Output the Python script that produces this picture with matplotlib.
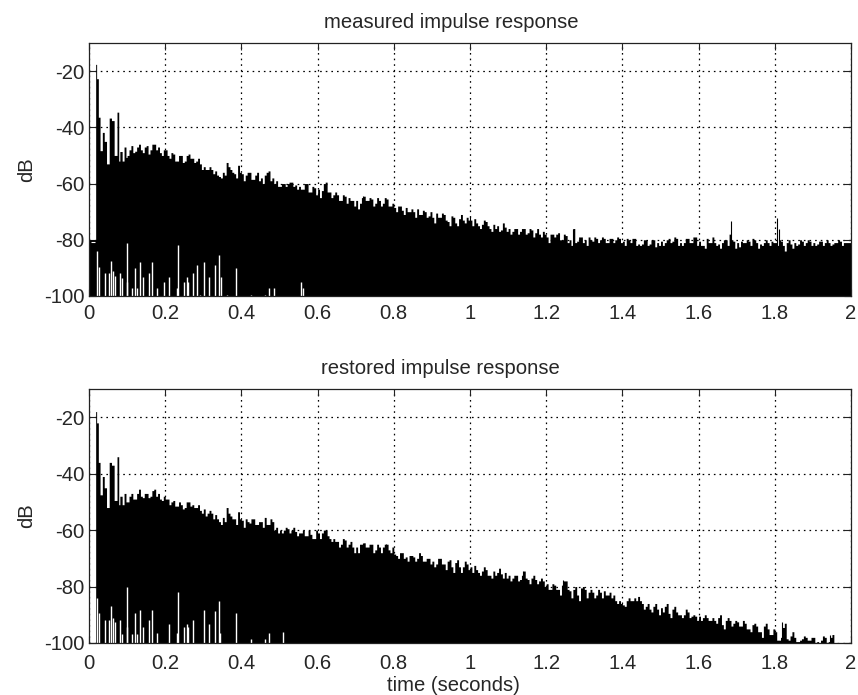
#! /usr/bin/env python3

'''
Measured and restored impulse response, level in dB against time
'''

import matplotlib
matplotlib.use('Agg')
import matplotlib.pyplot as plt
import numpy as np

plt.rcParams['font.family'] = ['Liberation Sans', 'DejaVu Sans']

x_ticks = [0, 0.2, 0.4, 0.6, 0.8, 1, 1.2, 1.4, 1.6, 1.8, 2]
x_tick_labels = ['0', '0.2', '0.4', '0.6', '0.8', '1', '1.2', '1.4', '1.6', '1.8', '2']
y_ticks = [-100, -80, -60, -40, -20]
y_tick_labels = ['-100', '-80', '-60', '-40', '-20']

# first 0.1 s, unevenly spaced
early_t = [0, 0.016, 0.0175, 0.02, 0.0245, 0.029, 0.035, 0.04, 0.046, 0.053,
           0.059, 0.066, 0.0735, 0.078, 0.081, 0.087, 0.092, 0.097]
measured_early = [-80, -80, -17.6, -22.7, -36.4, -48.3, -41.8, -45, -53, -36.7,
                  -37.6, -50, -34.6, -52, -48.6, -52, -47, -50.7]
restored_early = [-100, -100, -18, -22, -36, -47.5, -41, -45, -52, -36,
                  -37, -49.5, -34, -51, -48, -51, -47, -50]

# from 0.1 s on, one value every 0.005 s, one row per 0.1 s
measured_db = [
    -50, -48, -46.5, -49, -48.5, -47, -46, -48, -49, -47, -46.5, -49.5, -48, -46, -46, -48, -47, -49, -50, -48,
    -48, -50, -51, -49, -49.5, -52, -52, -50, -50, -52.5, -52, -50, -49.5, -51, -51, -52.5, -52, -51, -53, -55,
    -54, -55, -55, -54, -55, -56.5, -55.5, -57, -57.5, -58, -56, -57, -52.5, -54, -55, -56, -56.5, -58, -53.5, -56,
    -56.5, -59, -57, -56, -56, -58.5, -58.5, -57, -56, -59, -58, -60, -57, -56, -55.5, -59, -58, -60, -59, -61,
    -61, -60, -60, -61, -60, -59.5, -59.5, -61, -60.5, -62, -61, -62, -62, -60, -60, -63, -63, -61, -61.5, -64,
    -62, -65, -62.5, -60, -59.5, -63, -63, -65, -64, -63, -64, -66, -66, -64, -64.5, -67, -65, -66, -66, -68,
    -66, -69, -67, -65, -64.5, -66, -66, -65, -65.5, -68, -67, -65, -66, -68, -67, -65, -65.5, -68, -68, -67,
    -68.5, -70, -68, -68, -69.5, -71, -68.5, -70, -70, -69, -70, -72, -69, -71, -71, -69.5, -70, -72, -71.5, -70,
    -72, -74, -70.5, -72, -72, -70.5, -71, -73, -73.5, -75, -71.5, -72, -74, -75, -72.5, -71, -73, -74, -72, -73,
    -73, -75, -72.5, -74, -75, -76, -74.5, -73, -73.5, -75, -76, -77, -74.5, -76, -75, -77, -76.5, -74, -75.5, -77,
    -76, -78, -77, -76, -76, -78, -77, -76, -76, -78, -77.5, -76, -76.5, -79, -77.5, -76, -78, -79, -77, -78,
    -79, -81, -78, -78, -79, -78, -77.5, -80, -80, -78, -78.5, -81, -80, -82, -76, -81, -80.5, -79, -79, -81,
    -80, -82, -79, -80, -80.5, -79, -79.5, -81, -80, -79, -79.5, -81, -81, -79.5, -79.5, -81, -80, -79, -79.5, -81,
    -80.5, -82, -79.5, -80, -81, -79.5, -79.5, -82, -81.5, -82, -81.5, -80, -80, -82, -81.5, -80, -80, -82.5, -81, -82,
    -80.5, -82, -81, -80, -79.5, -81, -80.5, -79, -79.5, -82, -81, -82, -81, -79.5, -79.5, -81, -81, -79, -79, -82,
    -80.5, -82, -82, -83, -79.5, -81, -81, -79, -81, -82, -81.5, -83, -81, -80, -80, -82, -78, -80, -80.5, -83,
    -81, -82.5, -80.5, -81, -81, -80, -80.5, -82, -79.5, -80, -81, -83, -81.5, -82, -81, -80, -81, -82, -80.5, -81,
    -81, -82, -80, -80.5, -82, -84, -81, -80, -81.5, -83, -81, -82, -81.5, -80, -80.5, -82, -81, -80, -80.5, -82,
    -81, -82, -81.5, -80.5, -80.5, -82, -81, -80, -81, -82, -81.5, -81, -81, -80, -80.5, -82, -81, -81, -81, -81,
]
restored_db = [
    -50, -48, -47, -49, -49, -47, -45.5, -48, -48.5, -47, -47, -48.5, -48, -46, -45.5, -48, -47, -49, -49.5, -48,
    -49, -49, -51, -50, -49.5, -51.5, -51.5, -50, -51, -52.5, -52, -50, -50, -51.5, -51, -52, -52, -51, -53, -54,
    -52.5, -55, -54, -53, -54, -56, -54.5, -56, -57, -58, -55.5, -57, -52, -54, -55, -56, -56, -58, -53.5, -56,
    -56.5, -59, -56, -57, -57.5, -56, -56, -58, -58, -57, -57, -59, -55.5, -58, -58, -56, -57, -60, -59, -61,
    -60, -61, -60, -59, -59.5, -61, -60, -59, -60.5, -62, -61, -61, -60, -62, -62, -60, -61.5, -63, -63, -60,
    -61, -63, -61, -60, -60, -62, -63, -64, -63, -64, -64, -66, -65, -63, -63.5, -66, -65, -64, -66, -68,
    -66, -68, -65, -65, -64.5, -66, -66, -65, -65, -68, -67, -65, -66, -68, -66, -65, -65, -67, -68, -66,
    -68.5, -69, -70, -68, -68, -70, -69.5, -71, -69, -69, -69.5, -71, -70, -68, -69, -71, -71, -70, -70, -72,
    -71, -73, -72, -70, -70, -72, -72, -74, -71, -70.5, -73, -75, -71.5, -70.5, -73, -75, -73, -71, -72, -74,
    -73, -75, -72.5, -74, -75, -76, -74.5, -73, -74, -76, -76, -77, -74.5, -76, -75, -73.5, -75.5, -77, -75, -77,
    -76, -78, -77, -76, -76, -78, -77.5, -76, -74.5, -77, -77.5, -79, -77, -76, -77.5, -79, -78, -77, -78, -80,
    -79, -81, -81, -79, -79.5, -81, -81, -83, -79.5, -78, -78, -81, -81.5, -84, -81, -80, -83, -85, -80.5, -80,
    -81, -84, -82, -81, -82, -84, -83, -81, -82, -84, -81.5, -83, -83, -82, -84, -83, -85, -86, -85, -86,
    -86.5, -87, -85, -84, -85, -85, -84, -85, -83.5, -85, -86, -88, -87, -86, -88, -89, -87, -86, -88, -90,
    -87.5, -89, -87, -86, -89.5, -91, -88, -87, -89, -90, -90, -91, -90, -88, -89, -91, -90.5, -90, -90.5, -92,
    -90.5, -92, -91, -90, -91, -92, -92, -91, -92, -93, -91, -90, -93.5, -95, -92, -91, -92, -94, -93, -92,
    -92.5, -94, -94, -92, -93, -95, -95, -96, -93.5, -93, -94, -96, -96, -98, -94, -93, -95, -97, -97, -95,
    -96, -99, -99, -98, -94.5, -93, -98.5, -99, -97.5, -96, -98, -99.5, -99.5, -99, -98.5, -97.5, -98, -99, -99, -98,
    -98, -100, -99.5, -100, -99, -97.5, -98, -100, -99.5, -98, -97, -100, -100, -100, -100, -100, -100, -100, -100, -100,
]

# thin peaks above the main envelope
measured_peak_t = [1.27, 1.685, 1.805, 1.812, 1.0, 0.72]
measured_peak_db = [-76, -73.3, -72.4, -76, -71.5, -64.4]
restored_peak_t = [1.14, 1.245, 1.82, 1.945, 0.72, 0.78]
restored_peak_db = [-74.6, -77.5, -92.5, -97, -64.5, -65]

# white gaps rising from the floor
measured_gap_t = [.021, .025, .042, .052, .059, .064, .068, .081, .086, .101,
                  .099, .112, .120, .127, .134, .141, .158, .165, .179, .197,
                  .210, .234, .232, .249, .256, .261, .272, .283, .291, .302,
                  .315, .332, .340, .346, .361, .385, .424, .463, .473, .486,
                  .556, .561]
measured_gap_db = [-84, -89.7, -91.7, -91.7, -87.6, -91, -93, -91.7, -93.5, -81,
                   -95, -97, -90, -97, -88, -93.4, -91.7, -88, -97, -95,
                   -93.4, -82, -97, -95, -93.4, -95, -91.7, -89, -99.5, -88,
                   -93.4, -89, -85.5, -93.4, -99.5, -90, -99.5, -99.5, -97, -97,
                   -95, -97]
restored_gap_t = [.021, .025, .042, .052, .059, .064, .068, .081, .087, .101,
                  .099, .112, .120, .127, .134, .141, .158, .165, .179, .210,
                  .234, .232, .249, .256, .261, .272, .302, .315, .332, .340,
                  .344, .385, .424, .463, .473, .508]
restored_gap_db = [-84.2, -89.3, -91.7, -91.7, -86.9, -91.3, -92.5, -91.7, -96.7, -80.2,
                   -94.5, -96.7, -89.3, -96.7, -88.3, -94.3, -91.7, -88.3, -96.4, -93.1,
                   -82.1, -96.4, -94.5, -93.1, -94.5, -91.7, -88.3, -93.1, -88.8, -85,
                   -96.4, -89.3, -98.5, -98.5, -96.4, -96]

# small white break just under the level before the direct sound
measured_notch_t = [0.004, 0.016]
measured_notch_db = -80.9

text_color = '#262626'
font_size = 14.6
width, height = 858, 695
ax_left, ax_right = 89, 851


def axes_x(px):
    return (px - ax_left) / (ax_right - ax_left)


def plot_response(ax, early, body, peak_t, peak_db, gap_t, gap_db, title, title_px):
    t = np.concatenate([early_t, 0.10 + 0.005 * np.arange(len(body) + 1)])
    db = np.array(list(early) + list(body) + [body[-1]])
    ax.fill_between(t, -100, db, step='post', color='black', lw=0, zorder=3)
    ax.vlines(peak_t, -100, peak_db, color='black', lw=0.8, zorder=3)
    ax.vlines(gap_t, -100, gap_db, color='white', lw=1.0, zorder=4)
    ax.set_xlim(0, 2)
    ax.set_ylim(-100, -10)
    ax.set_xticks(x_ticks)
    ax.set_xticklabels(x_tick_labels)
    ax.set_yticks(y_ticks)
    ax.set_yticklabels(y_tick_labels)
    ax.grid(True, color='black', lw=0.9, linestyle=(0, (1.3, 3.2)), zorder=1)
    ax.set_axisbelow(True)
    ax.tick_params(direction='in', top=True, right=True, length=5, width=0.8,
                   labelsize=font_size, labelcolor=text_color, color='#222222')
    ax.tick_params(axis='y', pad=3)
    for spine in ax.spines.values():
        spine.set_linewidth(0.9)
        spine.set_color('#222222')
        spine.set_zorder(5)
    ax.set_ylabel('dB', fontsize=font_size, color=text_color, labelpad=6)
    ax.set_title(title, fontsize=font_size, color=text_color, pad=10.5, x=axes_x(title_px))


def main():
    fig = plt.figure(figsize=(width / 100, height / 100), dpi=100)
    left = ax_left / width
    wide = (ax_right - ax_left) / width
    ax1 = fig.add_axes([left, 1 - 296 / height, wide, (296 - 43) / height])
    ax2 = fig.add_axes([left, 1 - 643 / height, wide, (643 - 389) / height])
    plot_response(ax1, measured_early, measured_db, measured_peak_t, measured_peak_db,
                  measured_gap_t, measured_gap_db, 'measured impulse response', 451)
    plot_response(ax2, restored_early, restored_db, restored_peak_t, restored_peak_db,
                  restored_gap_t, restored_gap_db, 'restored impulse response', 440)
    ax1.hlines(measured_notch_db, *measured_notch_t, color='white', lw=0.8, zorder=4)
    ax1.tick_params(axis='x', pad=6)
    ax2.tick_params(axis='x', pad=8)
    ax2.set_xlabel('time (seconds)', fontsize=font_size, color=text_color, labelpad=2,
                   x=axes_x(453))
    fig.savefig('out.png', dpi=100)


if __name__ == '__main__':
    main()
